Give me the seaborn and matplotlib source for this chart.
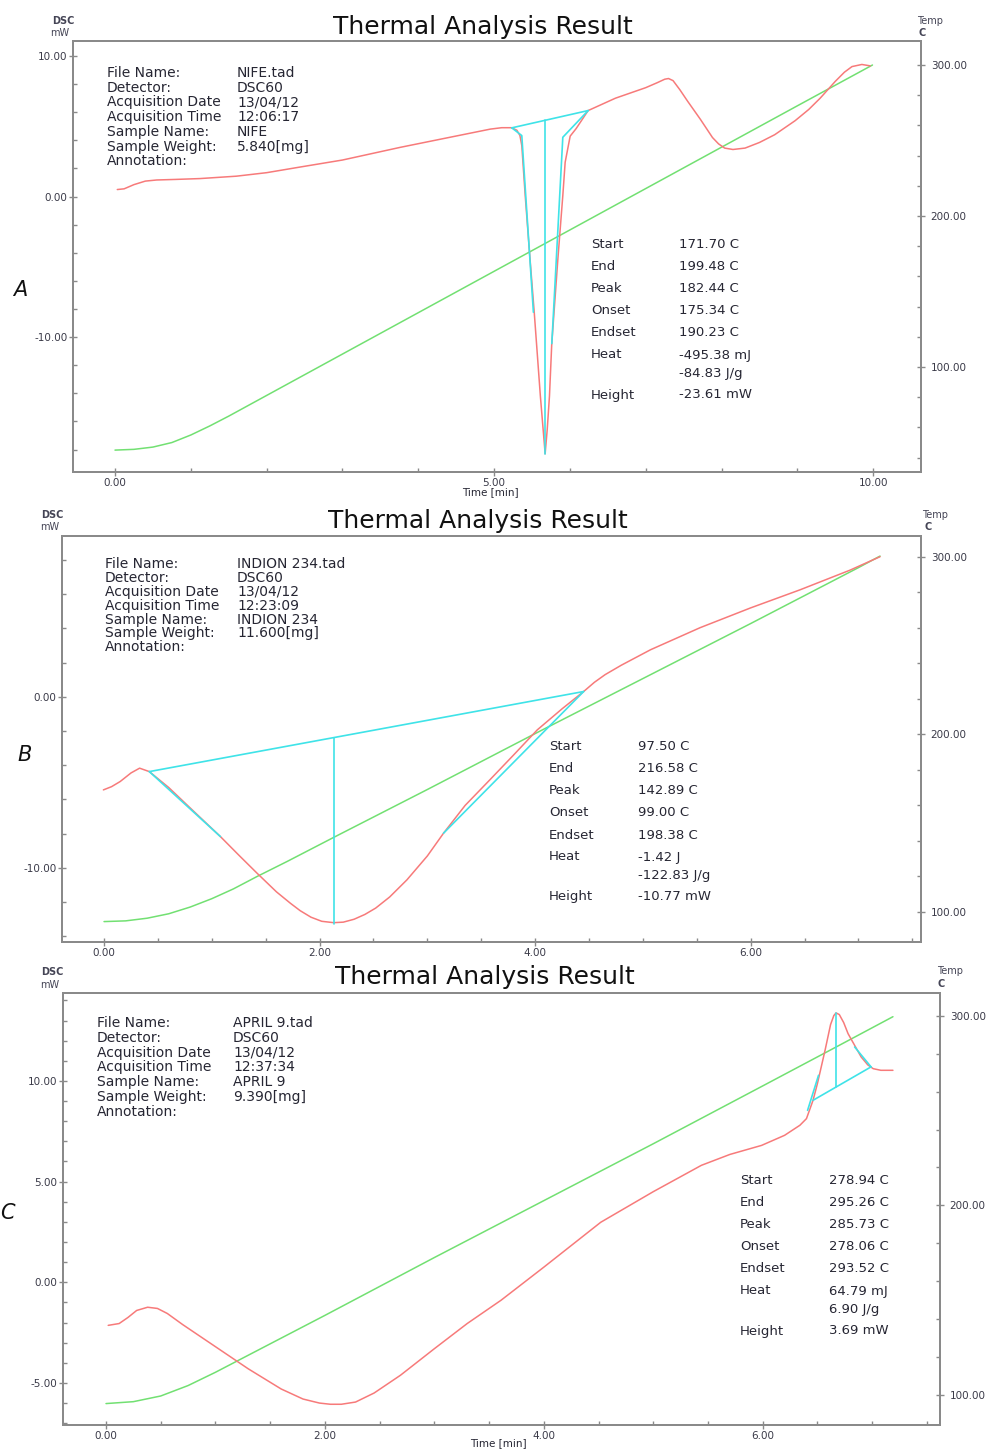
import matplotlib
matplotlib.use("Agg")
import numpy as np
import pandas as pd
import matplotlib.pyplot as plt
import seaborn as sns
from matplotlib.ticker import MultipleLocator, FormatStrFormatter

# DATA
# ---- A : NIFE
a_time = [0.03, 0.12, 0.25, 0.40, 0.55, 0.80, 1.12, 1.60, 2.00, 2.44, 3.00, 3.76, 4.40, 4.95,
          5.10, 5.23, 5.30, 5.34, 5.365, 5.41, 5.47, 5.53, 5.61, 5.65, 5.673, 5.70, 5.73, 5.76,
          5.84, 5.906, 5.937, 6.003, 6.082, 6.24, 6.60, 7.00, 7.15, 7.25, 7.30, 7.36, 7.45,
          7.55, 7.72, 7.88, 7.96, 8.04, 8.15, 8.31, 8.50, 8.70, 8.97, 9.15, 9.30, 9.50, 9.62,
          9.72, 9.85, 9.96]
a_dsc = [0.50, 0.55, 0.85, 1.10, 1.18, 1.22, 1.28, 1.45, 1.70, 2.10, 2.60, 3.50, 4.20, 4.80,
         4.90, 4.90, 4.72, 4.35, 3.63, 0.07, -4.2, -8.3, -14.2, -16.8, -18.3, -16.6, -14.2, -10.5,
         -4.5, 0.07, 2.44, 4.30, 4.84, 6.12, 7.00, 7.75, 8.10, 8.35, 8.40, 8.25, 7.60,
         6.80, 5.50, 4.20, 3.75, 3.45, 3.35, 3.45, 3.85, 4.40, 5.40, 6.20, 7.00, 8.20, 8.85,
         9.25, 9.40, 9.30]
a_temp_time = [0.0, 0.25, 0.5, 0.75, 1.0, 1.25, 1.5, 2.0, 3.0, 4.0, 5.0, 6.0, 7.0, 8.0, 9.0, 9.99]
a_temp = [45.0, 45.5, 47.0, 50.0, 55.0, 61.0, 67.5, 81.2, 108.6, 136.0, 163.4, 190.8, 218.2,
          245.6, 273.0, 300.0]
a_cyan_seg = [0, 0, 1, 1, 1, 2, 2, 2, 3, 3]
a_cyan_t = [5.233, 6.24, 5.233, 5.365, 5.518, 6.24, 5.906, 5.761, 5.673, 5.673]
a_cyan_v = [4.89, 6.12, 4.89, 4.34, -8.23, 6.12, 4.22, -10.46, 5.42, -18.3]
a_info = ["NIFE.tad", "DSC60", "13/04/12", "12:06:17", "NIFE", "5.840[mg]", ""]
a_res = ["171.70 C", "199.48 C", "182.44 C", "175.34 C", "190.23 C", "-495.38 mJ", "-84.83 J/g", "-23.61 mW"]

# ---- B : INDION 234
b_time = [-0.006, 0.07, 0.15, 0.25, 0.33, 0.42, 0.60, 0.80, 1.08, 1.25, 1.42, 1.60, 1.73, 1.82,
          1.92, 2.02, 2.13, 2.22, 2.32, 2.42, 2.52, 2.65, 2.81, 3.00, 3.15, 3.35, 3.58, 3.80,
          4.02, 4.25, 4.45, 4.55, 4.65, 4.80, 5.07, 5.53, 6.00, 6.46, 6.92, 7.20]
b_dsc = [-5.44, -5.25, -4.95, -4.45, -4.17, -4.37, -5.30, -6.50, -8.17, -9.25, -10.31, -11.40,
         -12.07, -12.50, -12.88, -13.12, -13.20, -13.17, -13.00, -12.72, -12.35, -11.70, -10.70,
         -9.30, -7.97, -6.35, -4.85, -3.40, -1.93, -0.70, 0.31, 0.85, 1.30, 1.85, 2.75, 4.04,
         5.20, 6.26, 7.40, 8.19]
b_temp_time = [0.0, 0.2, 0.4, 0.6, 0.8, 1.0, 1.2, 1.42, 1.7, 2.13, 3.0, 4.0, 5.0, 6.0, 7.0, 7.2]
b_temp = [94.6, 95.0, 96.5, 99.0, 102.8, 107.5, 113.0, 120.0, 128.5, 142.0, 169.0, 200.5,
          231.5, 262.5, 294.0, 300.5]
b_cyan_seg = [0, 0, 1, 1, 2, 2, 3, 3]
b_cyan_t = [0.42, 4.45, 0.42, 1.08, 3.15, 4.45, 2.13, 2.13]
b_cyan_v = [-4.37, 0.31, -4.37, -8.17, -7.97, 0.31, -2.40, -13.3]
b_info = ["INDION 234.tad", "DSC60", "13/04/12", "12:23:09", "INDION 234", "11.600[mg]", ""]
b_res = ["97.50 C", "216.58 C", "142.89 C", "99.00 C", "198.38 C", "-1.42 J", "-122.83 J/g", "-10.77 mW"]

# ---- C : APRIL 9
c_time = [0.02, 0.12, 0.20, 0.28, 0.38, 0.47, 0.56, 0.70, 1.00, 1.30, 1.60, 1.80, 1.95, 2.05,
          2.15, 2.28, 2.45, 2.69, 3.00, 3.30, 3.61, 4.00, 4.52, 5.00, 5.44, 5.70, 5.99, 6.20,
          6.34, 6.40, 6.46, 6.50, 6.57, 6.62, 6.65, 6.67, 6.70, 6.74, 6.78, 6.90, 6.96, 7.01,
          7.08, 7.19]
c_dsc = [-2.14, -2.05, -1.75, -1.40, -1.24, -1.30, -1.55, -2.10, -3.20, -4.30, -5.30, -5.80,
         -6.00, -6.06, -6.06, -5.95, -5.50, -4.62, -3.30, -2.05, -0.89, 0.75, 2.98, 4.50, 5.81,
         6.35, 6.80, 7.30, 7.80, 8.13, 9.04, 9.87, 11.53, 12.80, 13.25, 13.38, 13.30, 12.90,
         12.35, 11.19, 10.80, 10.61, 10.53, 10.53]
c_temp_time = [0.0, 0.25, 0.5, 0.75, 1.0, 1.25, 1.5, 2.0, 3.0, 4.0, 5.0, 6.0, 6.67, 7.19]
c_temp = [95.5, 96.5, 99.5, 105.0, 112.0, 119.5, 127.0, 142.0, 172.5, 202.5, 232.5, 263.0,
          283.5, 299.5]
c_cyan_seg = [0, 0, 1, 1, 2, 2, 3, 3]
c_cyan_t = [6.46, 6.99, 6.41, 6.51, 6.99, 6.84, 6.67, 6.67]
c_cyan_v = [9.04, 10.70, 8.54, 10.28, 10.70, 11.69, 9.70, 13.38]
c_info = ["APRIL 9.tad", "DSC60", "13/04/12", "12:37:34", "APRIL 9", "9.390[mg]", ""]
c_res = ["278.94 C", "295.26 C", "285.73 C", "278.06 C", "293.52 C", "64.79 mJ", "6.90 J/g", "3.69 mW"]

info_labels = ["File Name:", "Detector:", "Acquisition Date", "Acquisition Time",
               "Sample Name:", "Sample Weight:", "Annotation:"]
res_labels = ["Start", "End", "Peak", "Onset", "Endset", "Heat", "", "Height"]

# STYLE
sns.set_style("white")
plt.rcParams['font.family'] = ['DejaVu Sans']

RED = '#f77a7a'
GREEN = '#72e072'
CYAN = '#3fe3e8'
TXT = '#262633'
SPINE = '#8a8a8a'

W, H = 992, 1450
fig = plt.figure(figsize=(W / 100, H / 100), dpi=100)


def fx(x):
    return x / W


def fy(y):
    return 1 - y / H


def draw_panel(box, xlim, ylim, tlim, xmaj, xmin, ymaj, ymin,
               t, dsc, tt, temp, seg, ct, cv):
    left, top, right, bottom = box
    ax = fig.add_axes([fx(left), fy(bottom), (right - left) / W, (bottom - top) / H])
    ax2 = ax.twinx()

    sns.lineplot(x=tt, y=temp, ax=ax2, color=GREEN, lw=1.1, sort=False, legend=False)
    sns.lineplot(x=t, y=dsc, ax=ax, color=RED, lw=1.1, sort=False, legend=False)
    cy = pd.DataFrame({'seg': seg, 't': ct, 'v': cv})
    sns.lineplot(data=cy, x='t', y='v', units='seg', estimator=None, sort=False,
                 ax=ax, color=CYAN, lw=1.2, legend=False)
    ax.set_zorder(ax2.get_zorder() + 1)
    ax.patch.set_visible(False)

    ax.set_xlim(*xlim)
    ax.set_ylim(*ylim)
    ax2.set_ylim(*tlim)
    ax.set_xlabel('')
    ax.set_ylabel('')
    ax2.set_ylabel('')

    ax.xaxis.set_major_locator(MultipleLocator(xmaj))
    ax.xaxis.set_minor_locator(MultipleLocator(xmin))
    ax.yaxis.set_major_locator(MultipleLocator(ymaj))
    ax.yaxis.set_minor_locator(MultipleLocator(ymin))
    ax2.yaxis.set_major_locator(MultipleLocator(100))
    ax2.yaxis.set_minor_locator(MultipleLocator(20))
    ax.xaxis.set_major_formatter(FormatStrFormatter('%.2f'))
    ax.yaxis.set_major_formatter(FormatStrFormatter('%.2f'))
    ax2.yaxis.set_major_formatter(FormatStrFormatter('%.2f'))

    for a in (ax, ax2):
        for s in a.spines.values():
            s.set_color(SPINE)
            s.set_linewidth(1.4)
        a.tick_params(which='major', direction='inout', length=6, width=1, color=SPINE,
                      labelsize=7.5, labelcolor='#3a3a48', pad=1)
        a.tick_params(which='minor', direction='in', length=3, width=1, color=SPINE)
    ax.tick_params(axis='x', which='both', bottom=True, top=False)
    ax.tick_params(axis='y', which='both', left=True, right=False)
    ax2.tick_params(axis='y', which='both', right=True, left=False, pad=4)
    ax.grid(False)
    ax2.grid(False)
    return ax


draw_panel((73, 41, 921, 472), (-0.554, 10.63), (-19.6, 11.07), (30.5, 315.9), 5, 1, 10, 2,
           a_time, a_dsc, a_temp_time, a_temp, a_cyan_seg, a_cyan_t, a_cyan_v)
draw_panel((62, 536, 921, 942), (-0.39, 7.58), (-14.33, 9.4), (83.1, 311.8), 2, 0.5, 10, 2,
           b_time, b_dsc, b_temp_time, b_temp, b_cyan_seg, b_cyan_t, b_cyan_v)
draw_panel((63, 993, 940, 1425), (-0.393, 7.62), (-7.09, 14.37), (84.2, 312.0), 2, 0.5, 5, 1,
           c_time, c_dsc, c_temp_time, c_temp, c_cyan_seg, c_cyan_t, c_cyan_v)


def put(x, y, s, **kw):
    kw.setdefault('color', TXT)
    kw.setdefault('va', 'center')
    fig.text(fx(x), fy(y), s, **kw)


# titles and axis captions
for (tx, ty), (dx, dy), (mx, my), (px, py), (cx, cy_) in [
        ((483, 27), (63, 21), (60, 33), (930, 21), (922, 33)),
        ((478, 521), (52, 515), (50, 527), (935, 515), (928, 527)),
        ((485, 977), (52, 972), (50, 985), (950, 971), (941, 984))]:
    put(tx, ty, "Thermal Analysis Result", fontsize=18, ha='center', color='#111111')
    put(dx, dy, "DSC", fontsize=7, ha='center', fontweight='bold', color='#444455')
    put(mx, my, "mW", fontsize=7, ha='center', color='#444455')
    put(px, py, "Temp", fontsize=7, ha='center', color='#444455')
    put(cx, cy_, "C", fontsize=7, ha='center', fontweight='bold', color='#444455')

put(490, 492, "Time [min]", fontsize=7.5, ha='center')
put(498, 1443, "Time [min]", fontsize=7.5, ha='center')

put(20, 290, "A", fontsize=15, ha='center', style='italic', color='#111111')
put(25, 755, "B", fontsize=15, ha='center', style='italic', color='#111111')
put(7, 1213, "C", fontsize=15, ha='center', style='italic', color='#111111')

# info blocks
for (x0, x1, y0, step, vals) in [(107, 237, 73, 14.7, a_info),
                                 (105, 237, 564, 13.9, b_info),
                                 (97, 233, 1023, 14.8, c_info)]:
    for i, (lab, val) in enumerate(zip(info_labels, vals)):
        put(x0, y0 + i * step, lab, fontsize=10)
        if val:
            put(x1, y0 + i * step, val, fontsize=10)

# result blocks
offsets = [0, 22, 44, 66, 88, 110, 128, 150]
for (x0, x1, y0, vals) in [(591, 679, 245, a_res), (549, 638, 747, b_res), (740, 829, 1181, c_res)]:
    for off, lab, val in zip(offsets, res_labels, vals):
        if lab:
            put(x0, y0 + off, lab, fontsize=9.5)
        put(x1, y0 + off, val, fontsize=9.5)

fig.savefig("out.png", dpi=100)
